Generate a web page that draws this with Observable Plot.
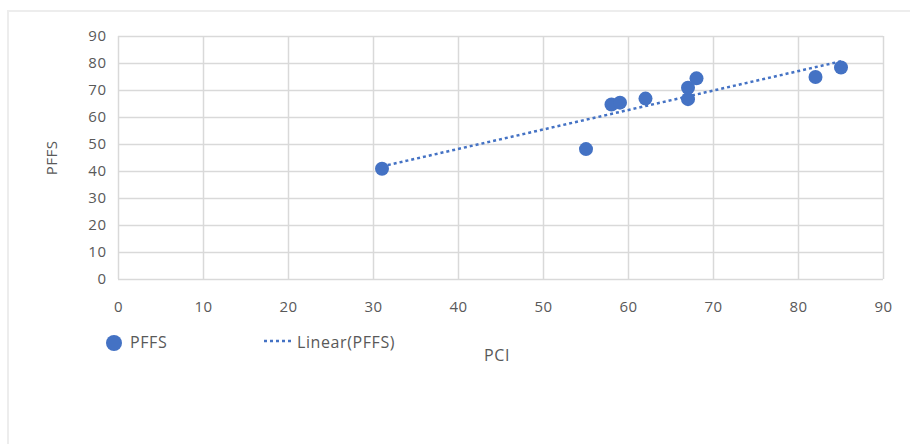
<!DOCTYPE html>
<html>
<head>
<meta charset="utf-8">
<script src="https://cdn.jsdelivr.net/npm/d3@7"></script>
<script src="https://cdn.jsdelivr.net/npm/@observablehq/plot@0.6"></script>
<style>
  html, body { margin: 0; padding: 0; background: #fff; overflow: hidden; }
  #wrap { position: relative; width: 910px; height: 444px; font-family: "Open Sans", Lato, sans-serif; color: #595959; }
  #box { position: absolute; left: 7px; top: 10px; width: 1000px; height: 500px; border-left: 2px solid #ededed; border-top: 2px solid #ededed; }
  #chart { position: absolute; left: 0; top: 0; }
  .leg { position: absolute; font-size: 16px; letter-spacing: 0.6px; color: #595959; white-space: nowrap; }
</style>
</head>
<body>
<div id="wrap">
  <div id="box"></div>
  <div id="chart"></div>
  <div id="legend"></div>
</div>
<script>
const pci  = [31, 55, 58, 59, 62, 67, 67, 68, 82, 85];
const pffs = [41, 48.3, 64.8, 65.5, 67, 66.8, 71, 74.5, 75, 78.5];
const xTicks = [0, 10, 20, 30, 40, 50, 60, 70, 80, 90];
const yTicks = [0, 10, 20, 30, 40, 50, 60, 70, 80, 90];
const seriesName = "PFFS";
const trendName = "Linear(PFFS)";
const xTitle = "PCI";
const yTitle = "PFFS";
const blue = "#4472c4";

const data = pci.map((x, i) => ({x, y: pffs[i]}));

// least-squares trend line derived from the data
const mx = d3.mean(pci), my = d3.mean(pffs);
const slope = d3.sum(pci, (x, i) => (x - mx) * (pffs[i] - my)) / d3.sum(pci, x => (x - mx) ** 2);
const intercept = my - slope * mx;
const trend = d3.extent(pci).map(x => ({x, y: intercept + slope * x}));

const font = "'Open Sans', Lato, sans-serif";

const plot = Plot.plot({
  width: 910,
  height: 330,
  marginLeft: 118,
  marginRight: 27,
  marginTop: 36,
  marginBottom: 51,
  style: {background: "transparent", fontFamily: font, fontSize: "15px", color: "#595959", letterSpacing: "0.5px"},
  x: {domain: [0, 90]},
  y: {domain: [0, 90]},
  marks: [
    Plot.gridX(xTicks, {stroke: "#d9d9d9", strokeOpacity: 1, strokeWidth: 1.5}),
    Plot.gridY(yTicks, {stroke: "#d9d9d9", strokeOpacity: 1, strokeWidth: 1.5}),
    Plot.axisX({ticks: xTicks, tickSize: 0, tickPadding: 22, fill: "#595959", label: null}),
    Plot.axisY({ticks: yTicks, tickSize: 0, tickPadding: 12, fill: "#595959", label: yTitle, labelAnchor: "center", labelArrow: "none", labelOffset: 72}),
    Plot.line(trend, {x: "x", y: "y", stroke: blue, strokeWidth: 2.5, strokeDasharray: "3,3", strokeLinecap: "butt"}),
    Plot.dot(data, {x: "x", y: "y", r: 7, fill: blue, stroke: "none"})
  ]
});
document.getElementById("chart").appendChild(plot);

const legend = document.getElementById("legend");
legend.innerHTML = `
  <svg class="leg" style="left:104px; top:333px;" width="20" height="20"><circle cx="10" cy="10" r="8" fill="${blue}"/></svg>
  <div class="leg" style="left:130px; top:331px;">${seriesName}</div>
  <svg class="leg" style="left:263px; top:336px;" width="32" height="10"><line x1="1" x2="30" y1="5" y2="5" stroke="${blue}" stroke-width="2.5" stroke-dasharray="3,3"/></svg>
  <div class="leg" style="left:297px; top:331px;">${trendName}</div>
  <div class="leg" style="left:484px; top:344px;">${xTitle}</div>
`;
</script>
</body>
</html>
